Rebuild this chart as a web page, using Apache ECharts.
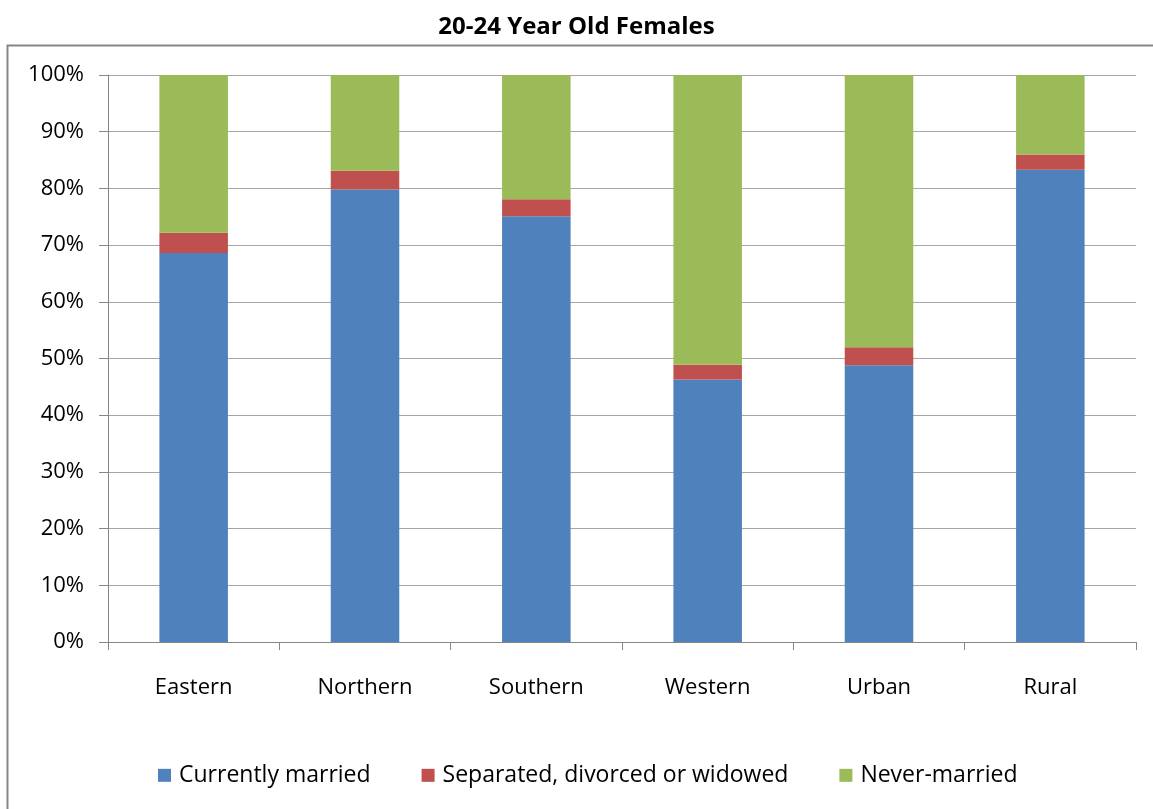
<!doctype html>
<html>
<head>
    <title>20-24 Year Old Females</title>
    <script src="https://cdn.jsdelivr.net/npm/echarts@6/dist/echarts.min.js"></script>
</head>
<style>
    html, body { margin: 0; padding: 0; background: #fff; }
    #chart { width: 1153px; height: 809px; }
</style>
<body>
<div id="chart"></div>
<script>
  var categories = ['Eastern', 'Northern', 'Southern', 'Western', 'Urban', 'Rural'];
  var married = [68.6, 79.8, 75.1, 46.3, 48.8, 83.3];
  var separated = [3.6, 3.3, 3.0, 2.6, 3.2, 2.7];
  var neverMarried = [27.8, 16.9, 21.9, 51.1, 48.0, 14.0];
  var seriesNames = ['Currently married', 'Separated, divorced or widowed', 'Never-married'];
  var colors = ['#4f81bd', '#c0504d', '#9bbb59'];

  var font = '"Open Sans", "Noto Sans", sans-serif';
  var myChart = echarts.init(document.getElementById('chart'));

  var option = {
    animation: false,
    color: colors,
    title: {
      text: '20-24 Year Old Females',
      left: 'center',
      top: 0,
      textStyle: { fontFamily: font, fontSize: 24, fontWeight: 'bold', color: '#000' }
    },
    graphic: [{
      type: 'rect',
      shape: { x: 7.5, y: 45.5, width: 1200, height: 900 },
      style: { fill: 'none', stroke: '#868686', lineWidth: 2 },
      silent: true
    }],
    grid: { left: 108, right: 17, top: 75, bottom: 167 },
    legend: {
      bottom: 10,
      left: 153,
      itemWidth: 13,
      itemHeight: 13,
      itemGap: 51,
      icon: 'rect',
      textStyle: { fontFamily: font, fontSize: 23, color: '#000', padding: [0, 0, 0, 3] },
      data: seriesNames
    },
    xAxis: {
      type: 'category',
      data: categories,
      axisLine: { lineStyle: { color: '#868686', width: 1 } },
      axisTick: { show: true, length: 8, lineStyle: { color: '#868686' } },
      axisLabel: { fontFamily: font, fontSize: 22, color: '#000', margin: 28 }
    },
    yAxis: {
      type: 'value',
      min: 0,
      max: 100,
      interval: 10,
      axisLine: { show: true, lineStyle: { color: '#868686' } },
      axisTick: { show: true, length: 9, inside: false, lineStyle: { color: '#868686' } },
      splitLine: { lineStyle: { color: '#a6a6a6', width: 1 } },
      axisLabel: { fontFamily: font, fontSize: 22, color: '#000', margin: 24, formatter: '{value}%' }
    },
    series: [
      { name: seriesNames[0], type: 'bar', stack: 'total', barWidth: '40%', data: married },
      { name: seriesNames[1], type: 'bar', stack: 'total', barWidth: '40%', data: separated },
      { name: seriesNames[2], type: 'bar', stack: 'total', barWidth: '40%', data: neverMarried }
    ]
  };

  myChart.setOption(option);
</script>
</body>
</html>
